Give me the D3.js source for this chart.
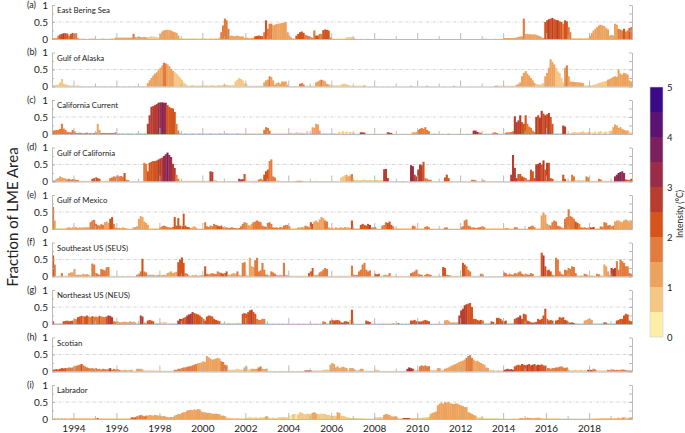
<!DOCTYPE html>
<html><head><meta charset="utf-8">
<script src="https://cdn.jsdelivr.net/npm/d3@7"></script>
<style>body{margin:0;background:#fff}svg{display:block}text{font-family:Lato,"Open Sans",sans-serif;fill:#222}</style>
</head><body>
<svg id="chart" width="685" height="433"></svg>
<script>
// ---------------- data ----------------
const startYear = 1993, endYear = 2020;          // monthly series Jan 1993 .. Dec 2019
const regions = ["East Bering Sea","Gulf of Alaska","California Current","Gulf of California","Gulf of Mexico","Southeast US (SEUS)","Northeast US (NEUS)","Scotian","Labrador"];
const letters = ["(a)","(b)","(c)","(d)","(e)","(f)","(g)","(h)","(i)"];
const yTickLabels = [0, 0.5, 1];
const yearLabels = [1994,1996,1998,2000,2002,2004,2006,2008,2010,2012,2014,2016,2018];
const intensityTicks = [0,1,2,3,4,5];
// colour of each 0.5 °C intensity class (class 0 = 0–0.5 °C ... class 9 = 4.5–5 °C)
const classColors = ["#fdeea8","#f4c784","#eda25e","#e37b3c","#d4541b","#b83c2f","#9a2c47","#7b1f5e","#5c1273","#3b0a86"];

// fraction of LME area (percent) per month, and intensity class per month
const ebsFrac = [3,3,3,10,13,15,17,17,16,10,15,18, 16,17,3,1,1,2,1,0,1,1,2,1, 1,0,1,1,2,1,0,1,1,2,1,4, 4,4,4,4,4,4,4,4,4,15,6,5, 7,6,5,6,5,5,6,8,7,6,5,4, 15,22,25,27,27,26,25,22,20,18,10,2, 1,2,1,2,1,1,2,1,2,1,1,2, 1,2,1,1,2,1,1,2,1,5,20,40, 60,55,30,9,10,8,9,10,8,7,8,3, 4,3,2,3,4,8,9,10,9,8,20,55, 30,45,45,40,42,44,45,46,47,48,50,20, 10,5,2,2,10,15,20,22,18,12,10,8, 5,4,25,10,10,15,15,26,28,27,25,5, 1,1,1,1,1,1,1,1,4,5,5,6, 4,1,0,0,1,0,0,0,1,0,0,0, 0,0,0,1,0,0,0,0,0,0,0,0, 0,0,0,0,0,0,0,0,0,0,0,0, 0,0,0,0,0,0,0,0,0,0,0,0, 0,0,0,0,0,0,0,0,0,0,0,0, 0,0,0,0,0,0,0,0,0,0,0,0, 1,1,1,0,0,0,0,1,0,0,1,0, 3,3,3,3,3,3,3,5,6,8,7,60, 15,15,14,14,13,14,12,10,8,5,3,50, 55,58,60,62,58,56,55,52,50,45,55,52, 35,20,3,3,2,2,3,3,2,3,3,4, 10,18,25,30,35,40,42,40,38,32,28,10, 12,10,45,42,30,28,25,30,22,25,32,35];
const ebsClass = [2,2,2,3,4,4,5,4,4,3,4,4, 4,3,2,1,1,1,1,1,1,1,1,1, 1,1,1,1,1,1,1,1,1,1,1,2, 2,2,2,2,2,2,2,2,2,3,2,2, 2,2,2,2,2,1,1,1,1,1,1,1, 2,2,2,2,2,2,2,2,2,2,2,1, 1,1,1,1,1,1,1,1,1,1,1,1, 1,1,1,1,1,1,1,1,1,1,3,3, 3,3,3,2,2,2,2,2,2,2,2,2, 2,2,2,2,2,4,4,4,4,4,3,4, 3,3,3,2,2,2,2,2,2,2,2,2, 2,2,1,1,4,4,4,4,4,3,3,3, 3,3,3,4,4,3,3,4,4,4,4,3, 1,1,1,1,1,1,1,1,1,1,1,1, 1,1,1,1,1,1,1,1,1,1,1,1, 1,1,1,1,1,1,1,1,1,1,1,1, 1,1,1,1,1,1,1,1,1,1,1,1, 1,1,1,1,1,1,1,1,1,1,1,1, 1,1,1,1,1,1,1,1,1,1,1,1, 1,1,1,1,1,1,1,1,1,1,1,1, 1,1,1,1,1,1,1,1,1,1,1,1, 2,2,2,2,2,2,2,2,2,2,2,3, 2,2,2,2,2,2,2,2,2,2,2,4, 4,5,4,5,4,4,5,4,4,3,4,4, 3,3,1,1,1,1,1,1,1,1,1,1, 2,2,2,2,2,2,2,2,2,2,2,2, 2,2,2,2,3,3,3,4,3,3,4,3];

const goaFrac = [3,4,5,5,12,22,8,6,5,3,2,3, 2,2,3,2,1,1,1,0,1,1,0,1, 1,0,1,1,0,1,1,0,1,1,0,1, 1,1,0,1,1,0,1,1,0,1,1,0, 1,1,1,1,1,10,18,25,32,38,42,50, 55,62,70,68,65,60,52,46,42,38,32,26, 20,12,8,3,2,3,4,3,2,3,2,3, 2,3,3,2,3,4,3,2,3,4,3,5, 5,5,4,3,3,4,15,20,25,22,18,10, 8,2,2,2,2,2,2,2,2,2,12,18, 20,30,28,18,5,10,12,8,15,14,15,5, 1,1,1,1,1,1,8,10,6,2,2,2, 2,2,2,12,15,18,20,18,15,8,6,5, 3,3,3,3,3,5,7,8,6,5,2,2, 2,2,2,2,2,2,3,1,0,1,0,1, 0,1,0,0,1,0,0,1,0,0,1,0, 0,0,1,0,0,0,0,0,2,0,0,0, 0,0,1,0,0,2,0,0,0,1,0,0, 0,0,1,0,0,0,0,0,2,0,0,0, 0,0,0,0,0,1,0,0,0,0,0,0, 0,0,0,0,0,0,0,2,2,2,2,2, 2,2,2,2,2,2,2,5,8,12,30,40, 45,38,32,25,18,10,8,6,5,8,10,30, 40,55,80,72,65,55,45,40,25,12,55,62, 30,15,14,14,13,12,12,11,10,3,3,3, 3,3,5,6,8,10,12,14,15,16,20,22, 25,28,30,28,50,38,35,40,38,35,18,15];
const goaClass = [1,1,1,1,1,1,1,1,1,1,1,1, 1,1,1,1,1,1,1,1,1,1,1,1, 1,1,1,1,1,1,1,1,1,1,1,1, 1,1,1,1,1,1,1,1,1,1,1,1, 1,1,1,1,1,2,2,2,2,2,2,2, 2,2,3,3,2,2,2,2,1,1,1,1, 1,1,1,1,1,1,1,1,1,1,1,1, 1,1,1,1,1,1,1,1,1,1,1,1, 1,1,1,1,1,1,1,1,1,1,1,1, 1,1,1,1,1,1,1,1,1,1,2,2, 2,3,2,2,2,2,2,2,2,2,2,2, 1,1,1,1,1,1,3,3,3,1,1,1, 1,1,1,2,2,2,3,2,2,2,2,1, 1,1,1,1,1,1,1,1,1,1,1,1, 1,1,1,1,1,1,3,1,1,1,1,1, 1,1,1,1,1,1,1,1,1,1,1,1, 1,1,1,1,1,1,1,1,3,1,1,1, 1,1,1,1,1,3,1,1,1,1,1,1, 1,1,1,1,1,1,1,1,3,1,1,1, 1,1,1,1,1,1,1,1,1,1,1,1, 1,1,1,1,1,1,1,3,3,1,1,1, 1,1,1,1,1,1,1,2,2,2,2,2, 2,2,2,2,2,2,1,1,1,1,1,2, 2,2,2,2,2,1,1,1,1,1,2,3, 2,2,2,2,2,2,2,2,2,1,1,1, 1,1,1,1,1,1,1,1,1,1,2,2, 2,2,2,2,2,2,2,2,2,2,2,2];

const ccFrac = [10,11,12,12,15,30,16,12,6,5,5,12, 8,3,2,4,3,2,3,4,2,3,2,3, 4,30,12,3,3,3,3,3,3,3,3,5, 1,2,1,2,1,1,2,1,2,1,1,2, 1,2,1,2,1,30,55,80,82,85,88,92, 93,93,92,92,85,80,76,75,65,30,10,2, 1,1,2,1,1,1,2,1,1,1,2,1, 1,1,1,1,2,1,1,1,1,2,1,1, 1,2,1,1,1,1,1,2,1,1,1,1, 1,1,1,1,1,1,1,1,1,1,12,20, 18,10,1,1,1,1,1,1,1,1,1,1, 3,4,2,3,5,4,3,4,3,2,8,2, 2,20,18,30,28,10,2,2,2,2,2,2, 2,2,2,5,6,5,8,6,7,5,6,5, 4,1,1,1,5,5,4,1,1,0,1,0, 0,1,0,1,0,1,0,5,4,3,1,0, 1,0,1,0,1,0,1,0,1,5,5,6, 12,15,18,15,20,12,8,1,1,2,1,1, 0,1,1,0,1,2,1,0,1,0,1,1, 0,1,0,1,1,0,1,10,10,6,5,4, 1,1,1,1,1,1,4,5,3,1,1,1, 1,4,5,5,6,8,52,35,40,55,35,30, 55,30,22,18,10,6,50,55,48,68,60,55, 58,62,50,30,2,2,2,2,2,25,22,2, 2,2,4,5,6,3,5,6,8,5,4,6, 5,6,4,7,5,6,8,6,5,7,6,8, 10,20,28,25,18,20,15,12,10,10,5,4];
const ccClass = [3,3,3,3,3,3,3,3,3,3,3,3, 3,3,3,3,3,3,3,3,3,3,3,3, 3,2,2,3,3,3,3,3,3,3,3,3, 2,2,2,2,2,2,2,2,2,2,2,2, 2,2,2,2,2,5,5,5,5,5,5,6, 6,7,6,6,4,4,4,4,4,3,3,2, 2,2,2,2,2,2,2,2,2,2,2,2, 2,2,2,2,2,2,2,2,2,2,2,2, 2,2,2,2,2,2,2,2,2,2,2,2, 2,2,2,2,2,2,2,2,2,2,3,3, 3,3,2,2,2,2,2,2,2,2,2,2, 1,1,1,1,1,1,1,1,1,1,1,1, 1,2,2,2,2,2,1,1,1,1,1,1, 1,1,1,0,1,0,1,0,1,0,1,0, 1,1,1,1,5,5,5,1,1,1,1,1, 1,1,1,1,1,1,1,5,5,5,1,1, 1,1,1,1,1,1,1,1,1,2,2,2, 3,3,3,3,3,3,3,1,1,1,1,1, 1,1,1,1,1,1,1,1,1,1,1,1, 1,1,1,1,1,1,1,6,6,6,3,3, 1,1,1,1,1,1,3,3,3,1,1,1, 1,3,3,3,3,3,5,5,5,5,4,4, 4,3,3,3,3,3,5,4,5,5,4,5, 4,5,4,4,1,1,1,1,1,5,5,1, 1,1,1,1,1,1,1,1,1,1,1,1, 1,0,1,1,0,1,1,0,1,1,0,1, 1,2,2,2,2,2,2,2,2,2,1,1];

const gcFrac = [2,2,8,10,15,12,10,9,6,8,5,7, 6,5,4,2,2,2,2,2,2,2,8,10, 12,10,8,2,2,2,2,2,10,12,15,14, 18,15,16,14,25,5,4,1,1,1,1,1, 1,1,1,55,52,30,55,58,60,60,62,65, 68,70,75,80,85,78,72,52,40,20,8,2, 2,2,2,2,2,2,2,2,2,2,2,2, 2,2,2,2,30,28,5,4,1,1,1,1, 1,1,1,1,1,1,1,1,8,6,7,22, 2,2,2,2,2,2,2,6,8,5,20,30, 35,60,65,15,12,3,3,1,1,1,1,1, 1,1,1,1,2,2,2,2,1,1,1,1, 1,1,1,2,1,1,1,1,1,1,1,1, 1,1,1,1,1,12,15,18,20,15,18,22, 5,4,5,3,4,5,6,4,3,5,4,3, 4,5,3,4,3,36,37,10,1,1,1,1, 1,1,1,1,1,1,1,1,48,45,20,15, 35,50,48,58,10,8,5,5,1,1,1,1, 1,1,1,12,20,10,1,1,1,1,1,1, 1,1,1,1,1,1,5,5,4,1,1,1, 3,3,1,1,1,1,1,1,1,1,1,1, 1,1,1,1,20,78,40,10,22,22,15,12, 10,5,5,35,30,10,50,52,55,50,62,35, 55,55,10,8,2,2,2,2,2,20,8,2, 2,2,20,15,4,3,5,3,4,3,15,12, 2,2,2,2,2,8,6,2,2,2,2,2, 2,2,15,20,25,28,30,25,6,5,4,8];
const gcClass = [9,9,2,2,2,2,2,2,3,3,3,3, 3,3,3,1,1,1,1,1,1,1,4,4, 4,4,4,1,1,1,1,1,3,3,3,3, 3,3,3,3,4,3,3,1,1,1,1,1, 1,1,1,3,3,4,4,4,4,4,4,5, 5,5,6,6,7,6,6,5,5,3,3,1, 1,1,1,1,1,1,1,1,1,1,1,1, 1,1,1,1,5,5,1,1,1,1,1,1, 1,1,1,1,1,1,1,1,5,5,5,4, 1,1,1,1,1,1,1,3,3,3,4,4, 4,3,3,3,3,1,1,1,1,1,1,1, 1,1,1,1,3,3,3,3,1,1,1,1, 1,1,1,1,1,1,1,1,1,1,1,1, 1,1,1,1,1,1,1,1,2,2,2,3, 1,1,1,1,1,1,1,1,1,1,1,1, 1,1,1,1,1,5,5,5,1,1,1,1, 1,1,1,1,1,1,1,1,6,6,5,5, 5,5,5,4,3,3,3,3,1,1,1,1, 1,1,1,4,4,4,1,1,1,1,1,1, 1,1,1,1,1,1,3,3,3,1,1,1, 3,3,1,1,1,1,1,1,1,1,1,1, 1,1,1,1,5,5,5,5,4,4,4,4, 4,3,3,4,4,4,5,5,5,4,5,4, 5,4,4,4,1,1,1,1,1,4,4,1, 1,1,3,3,1,1,1,1,1,1,3,3, 1,1,1,1,1,3,3,1,1,1,1,1, 1,1,6,6,7,7,6,6,4,4,4,4];

const gomFrac = [65,25,2,2,2,2,2,2,4,5,3,5, 4,6,3,5,4,5,5,5,5,20,25,27, 15,12,10,14,12,20,22,18,30,35,15,5, 3,4,2,5,3,2,1,1,1,5,6,8, 30,38,35,22,18,12,2,2,2,2,2,2, 5,8,10,8,6,5,4,6,35,10,32,10, 8,45,10,6,5,3,5,8,4,1,1,1, 1,20,8,6,10,8,15,12,10,8,10,5, 4,5,3,4,5,3,3,2,3,8,15,20, 18,12,10,15,20,22,25,22,20,10,8,6, 18,20,15,5,4,5,3,6,4,10,12,12, 8,2,2,2,2,5,4,6,5,10,8,5, 20,15,22,25,20,28,35,32,25,22,5,3, 4,2,5,3,4,5,3,6,4,5,3,25, 3,2,2,2,12,15,12,10,15,12,4,5, 6,1,1,1,10,12,20,18,22,12,8,2, 2,2,2,2,2,2,2,2,2,10,8,2, 2,2,2,2,6,8,5,1,1,1,1,1, 1,1,1,4,5,1,1,1,1,1,1,1, 5,8,25,28,10,8,4,5,3,4,5,6, 8,5,2,2,2,2,2,2,2,2,2,2, 2,3,3,1,1,1,5,5,1,1,1,1, 1,1,6,8,10,5,2,2,2,40,48,42, 15,12,10,20,25,22,10,8,5,3,30,35, 58,38,35,30,22,18,15,5,4,5,3,4, 5,4,6,2,2,2,8,6,20,18,10,12, 8,10,22,25,25,22,20,25,28,25,22,25];
const gomClass = [3,2,1,1,1,1,1,1,2,2,2,2, 2,2,2,2,2,2,2,2,2,3,3,3, 3,3,3,3,3,2,2,2,4,4,3,2, 2,2,2,2,2,2,1,1,1,2,2,2, 2,2,2,2,2,2,1,1,1,1,1,1, 3,3,3,3,3,3,3,3,4,4,4,4, 4,4,4,4,4,2,2,2,2,1,1,1, 1,3,3,3,3,3,3,3,4,4,4,3, 3,3,3,3,3,3,3,3,3,3,3,3, 3,2,2,2,3,3,3,3,3,3,3,3, 3,3,3,3,3,3,3,3,3,3,3,3, 3,1,1,1,1,2,2,2,2,3,3,3, 4,4,2,2,2,2,2,2,3,3,2,2, 2,1,2,2,2,2,2,2,2,2,2,4, 2,1,1,1,4,4,4,4,4,5,3,3, 3,1,1,1,3,3,3,4,4,4,3,1, 1,1,1,1,1,1,1,1,1,3,3,1, 1,1,1,1,3,3,3,1,1,1,1,1, 1,1,1,3,3,1,1,1,1,1,1,1, 3,3,3,3,3,3,3,3,3,3,3,3, 3,3,1,1,1,1,1,1,1,1,1,1, 1,2,2,1,1,1,3,3,1,1,1,1, 1,1,3,3,3,3,1,1,1,2,2,2, 2,2,3,3,3,3,3,3,3,2,3,3, 3,3,3,3,4,4,3,3,3,3,3,3, 5,5,5,1,1,1,3,3,3,3,3,3, 3,3,2,2,2,2,2,2,2,2,2,2];

const seusFrac = [62,35,2,2,2,10,2,2,2,10,12,12, 22,5,5,5,5,8,6,7,5,2,38,35, 10,8,5,22,20,18,27,28,2,1,2,1, 1,2,1,2,1,1,2,1,2,1,1,5, 8,15,52,15,12,5,5,5,5,3,4,5, 3,4,5,4,10,12,15,10,12,14,42,50, 56,40,10,8,3,2,4,3,5,2,3,4, 3,30,8,6,8,10,8,7,15,12,10,8, 10,15,5,5,8,10,8,15,4,3,40,42, 3,2,55,30,28,48,55,15,18,40,20,5, 4,3,15,12,8,5,4,5,3,40,5,4, 2,2,2,2,2,2,2,2,2,2,2,10, 15,25,5,4,5,12,15,20,25,22,2,2, 2,2,2,2,2,2,2,2,2,2,2,32, 5,4,5,15,20,35,40,20,15,18,2,2, 8,6,8,2,2,5,5,4,10,2,1,2, 1,2,1,2,1,2,1,2,10,12,15,20, 8,6,5,2,5,8,6,5,2,2,2,2, 2,2,28,25,5,4,3,2,2,2,2,2, 2,40,35,30,20,15,2,2,2,2,2,8, 6,1,1,1,1,1,1,1,1,1,1,1, 12,10,5,8,6,5,10,8,12,15,8,5, 8,6,5,10,8,2,2,2,2,70,62,30, 18,20,15,5,3,55,50,15,8,5,20,18, 25,22,30,28,10,3,2,3,2,8,6,3, 2,3,2,2,8,6,3,2,35,30,15,5, 25,22,25,45,20,50,45,40,30,30,10,8];
const seusClass = [4,3,1,1,1,3,1,1,1,2,2,2, 2,2,2,2,2,2,2,2,2,1,3,3, 3,3,3,3,3,3,3,3,1,1,1,1, 1,1,1,1,1,1,1,1,1,1,1,3, 3,3,4,3,3,2,2,2,2,2,2,2, 2,2,2,2,2,2,2,2,2,2,4,4, 4,4,3,3,2,2,2,2,2,2,2,2, 2,4,3,3,3,3,3,3,3,3,4,4, 4,4,2,2,2,2,2,3,2,2,3,3, 2,2,2,2,2,3,3,3,3,3,3,3, 2,2,3,3,3,2,2,2,2,3,2,2, 1,1,1,1,1,1,1,1,1,1,1,4, 4,4,2,2,2,3,3,3,3,3,1,1, 1,1,1,1,1,1,1,1,1,1,1,3, 3,3,3,3,3,3,3,3,3,3,1,1, 4,4,4,1,1,2,2,2,3,1,1,1, 1,1,1,1,1,1,1,1,3,3,3,3, 3,3,3,1,3,3,3,3,1,1,1,1, 1,1,4,4,3,3,3,1,1,1,1,1, 1,4,4,3,3,3,1,1,1,1,1,3, 3,1,1,1,1,1,1,1,1,1,1,1, 3,3,3,3,3,3,3,3,3,3,3,3, 3,3,3,3,3,1,1,1,1,4,5,4, 4,4,4,3,3,3,3,3,3,3,3,3, 3,3,3,3,3,2,2,2,2,3,3,2, 2,2,2,2,3,3,2,2,2,2,2,2, 5,5,5,3,3,3,3,3,3,3,3,3];

const neusFrac = [8,2,2,2,2,2,8,9,10,8,9,10, 15,14,20,22,24,23,22,25,22,20,23,21, 22,20,24,22,21,20,22,25,24,20,8,7, 8,6,5,6,7,6,5,8,6,7,5,2, 2,25,22,5,4,10,12,10,8,3,3,3, 5,4,5,6,2,2,2,2,2,2,10,15, 15,18,20,25,28,30,35,32,30,28,25,20, 15,10,22,25,24,22,15,12,10,8,3,2, 3,2,4,3,2,3,2,4,3,2,30,32, 30,35,40,42,35,30,15,12,12,15,15,2, 1,2,1,2,1,1,2,1,2,1,1,2, 1,1,2,1,1,2,1,1,2,1,1,1, 2,1,1,2,1,1,2,8,6,2,2,10, 12,10,11,12,10,5,4,8,8,6,12,42, 3,1,1,1,1,1,1,10,8,6,2,1, 2,1,2,1,2,2,1,2,1,2,1,2, 1,2,1,2,1,2,1,2,10,10,12,8, 8,7,8,10,12,10,8,1,1,1,1,1, 1,1,1,10,12,10,5,4,5,4,5,25, 40,45,55,58,60,62,50,15,15,12,10,12, 10,3,3,3,3,8,6,3,18,18,15,10, 8,10,3,3,3,3,15,18,20,25,15,30, 28,10,8,5,4,5,6,15,12,15,25,45, 15,10,12,10,3,10,12,20,18,20,12,10, 5,4,5,3,2,2,2,2,2,10,12,15, 14,12,2,2,2,2,2,2,5,4,2,2, 2,2,2,10,12,15,15,25,30,28,10,8];
const neusClass = [4,1,1,1,1,1,4,4,4,4,4,4, 3,3,4,4,4,3,4,4,3,3,4,3, 3,3,4,3,3,3,4,5,5,5,3,3, 2,2,2,2,2,2,2,2,2,2,2,1, 1,5,5,2,2,4,4,4,4,1,1,1, 1,1,1,1,1,1,1,1,1,1,5,5, 4,4,4,5,5,5,5,4,4,4,4,4, 4,4,4,4,4,4,4,4,4,4,1,1, 1,1,1,1,1,1,1,1,1,1,4,4, 4,4,4,5,4,4,3,3,3,3,3,1, 1,1,1,1,1,1,1,1,1,1,1,1, 1,1,1,1,1,1,1,1,1,1,1,1, 1,1,1,1,1,1,1,3,3,1,1,4, 4,4,4,4,4,4,4,4,4,4,1,4, 1,1,1,1,1,1,1,4,4,4,1,1, 1,1,1,1,1,1,1,1,1,1,7,1, 1,7,1,1,1,1,1,1,4,4,4,4, 4,4,4,4,4,4,4,1,1,1,1,1, 1,1,1,2,2,2,2,2,2,2,2,5, 5,5,5,5,4,4,4,4,4,4,4,4, 4,1,1,1,1,4,4,1,4,4,4,4, 4,4,1,1,1,1,4,4,5,5,4,4, 4,4,4,4,4,4,4,4,4,4,4,4, 4,4,4,4,1,4,4,4,4,4,4,4, 4,4,4,4,1,1,1,1,1,2,2,2, 2,2,1,1,1,1,1,1,4,4,1,1, 1,1,1,4,4,4,4,4,4,4,4,4];

const scotFrac = [5,6,7,6,8,10,9,10,10,12,11,12, 15,17,18,20,22,18,15,12,10,9,10,8, 10,7,8,6,8,7,6,8,10,5,8,6, 7,5,4,3,5,4,3,4,5,2,2,8, 7,8,6,3,3,3,3,3,3,3,3,2, 2,2,2,2,2,2,2,2,5,5,8,8, 10,12,12,14,15,16,18,20,22,24,25,27, 30,28,45,42,38,35,36,38,40,38,30,28, 20,18,5,4,5,5,6,8,6,5,6,12, 15,5,6,8,8,7,8,12,15,8,7,8, 2,1,2,1,2,1,1,2,1,2,1,1, 2,1,2,1,1,2,1,2,1,3,3,3, 3,3,3,3,3,3,3,5,5,6,5,20, 25,22,12,15,10,12,14,12,10,5,10,10, 8,5,4,5,8,8,2,2,2,2,2,2, 5,5,4,1,2,1,2,1,2,1,2,1, 2,1,2,1,2,2,8,12,10,8,5,4, 5,15,18,16,18,15,16,5,4,5,4,10, 10,5,5,8,10,12,15,18,20,22,25,28, 30,32,35,40,45,48,40,35,30,32,28,25, 22,20,12,10,5,4,5,2,3,4,2,3, 5,6,8,6,7,5,15,18,20,18,22,20, 18,20,22,18,20,22,18,20,19,21,18,17, 10,10,8,10,10,12,12,14,15,12,10,12, 5,4,3,4,5,3,4,5,3,4,3,5, 5,4,8,6,3,3,3,3,3,3,5,4, 5,6,4,5,4,5,6,5,4,3,3,3];
const scotClass = [4,4,4,4,4,4,4,4,3,3,3,3, 3,3,3,3,4,3,3,3,3,3,3,3, 3,3,3,3,3,3,3,3,5,3,3,3, 3,3,2,2,2,2,2,2,2,1,1,2, 2,2,2,1,1,1,1,1,1,1,1,1, 1,1,1,1,1,1,1,1,3,3,3,3, 3,3,3,3,3,3,3,3,3,2,2,2, 2,2,2,2,2,2,2,2,2,2,3,3, 3,3,1,1,1,1,1,1,1,1,1,2, 2,1,1,2,2,2,2,3,3,2,2,2, 1,1,1,1,1,1,1,1,1,1,1,1, 1,1,1,1,1,1,1,1,1,5,5,5, 5,1,1,1,1,1,1,1,1,1,1,2, 2,2,2,2,2,2,2,2,2,1,2,2, 2,1,1,1,2,2,1,1,1,1,1,1, 1,1,1,1,1,1,1,1,1,1,1,1, 1,1,1,1,1,1,5,6,5,5,1,1, 1,3,3,3,3,3,3,1,1,1,1,2, 2,1,1,2,2,2,2,2,2,2,2,2, 2,2,2,3,3,3,3,2,2,2,2,2, 2,2,2,2,1,1,1,1,1,1,1,1, 5,5,5,5,5,5,4,4,4,4,4,4, 4,5,4,4,5,4,4,5,4,4,4,4, 3,3,3,3,3,3,3,3,3,3,3,3, 1,1,1,1,1,1,1,1,1,1,1,5, 5,5,3,3,1,1,1,1,1,1,3,3, 3,3,3,3,3,3,3,3,3,3,3,3];

const labFrac = [1,2,1,2,1,2,1,2,1,1,2,3, 2,3,2,3,3,2,3,2,3,2,2,3, 2,3,2,2,2,2,2,2,2,2,2,2, 2,2,2,2,2,2,2,2,5,4,5,8, 10,12,10,8,10,10,12,11,10,12,11,10, 10,8,9,7,6,5,6,5,10,12,15,14, 18,20,20,25,26,27,26,28,27,29,28,22, 20,20,18,18,17,16,15,16,15,14,10,10, 8,5,4,3,3,2,2,3,2,2,2,2, 3,4,5,4,3,5,4,3,5,4,6,8, 6,3,2,4,3,2,5,5,5,6,5,4, 10,12,14,15,12,14,20,18,15,14,16,15, 15,18,20,16,15,14,16,15,15,12,12,10, 9,10,8,20,18,10,9,8,5,5,3,3, 3,3,2,2,2,2,1,1,1,1,1,1, 5,4,5,6,5,12,15,14,12,8,7,8, 6,2,2,2,3,3,3,3,2,3,3,3, 3,3,3,5,4,5,6,15,18,20,22,40, 45,48,45,50,48,50,46,45,44,46,45,42, 40,38,35,35,20,18,15,12,10,5,4,5, 4,2,2,2,2,2,2,2,2,2,1,1, 1,1,1,1,1,1,1,1,1,3,3,2, 3,4,3,3,2,3,3,4,3,2,2,2, 2,2,2,2,2,2,2,2,1,1,1,1, 1,1,1,1,1,1,1,1,1,1,1,1, 1,1,2,2,2,2,3,3,3,3,3,3, 3,3,3,3,4,3,4,5,4,3,4,5];
const labClass = [2,2,2,2,2,2,2,2,2,2,2,1, 1,1,1,1,1,1,1,1,1,1,1,1, 1,5,1,1,1,1,1,1,1,1,1,1, 1,1,1,1,1,1,1,1,4,4,4,3, 3,3,3,3,3,2,2,2,2,2,2,2, 2,2,2,2,2,2,2,2,2,2,2,2, 2,2,2,2,2,2,2,2,2,2,2,2, 2,2,2,2,2,2,2,2,2,2,2,2, 2,1,1,1,1,1,1,1,1,1,1,1, 1,1,1,1,1,1,1,1,1,1,1,2, 1,1,1,1,1,1,1,1,1,1,1,1, 0,0,1,1,0,1,1,1,1,1,1,1, 1,2,2,2,1,1,1,1,1,1,1,1, 1,1,1,2,2,1,1,1,1,1,1,1, 1,1,1,1,1,1,1,1,1,1,1,1, 1,1,1,1,1,2,2,2,2,2,2,2, 2,1,1,1,5,5,5,5,1,1,1,1, 1,1,1,1,1,1,1,2,2,2,2,2, 2,2,2,2,2,2,2,2,2,2,2,2, 2,2,2,2,2,2,2,2,2,1,1,1, 1,1,1,1,1,1,1,1,1,1,1,1, 1,1,1,1,1,1,1,1,1,2,2,2, 2,2,2,2,2,2,2,2,2,1,1,1, 1,1,1,1,1,1,1,1,1,1,1,1, 1,1,1,1,1,1,1,1,1,1,1,1, 1,1,1,1,1,1,1,1,1,1,1,1, 1,1,1,1,2,1,2,2,1,1,2,2];

const fracs = [ebsFrac, goaFrac, ccFrac, gcFrac, gomFrac, seusFrac, neusFrac, scotFrac, labFrac];
const classes = [ebsClass, goaClass, ccClass, gcClass, gomClass, seusClass, neusClass, scotClass, labClass];

// ---------------- drawing ----------------
const svg = d3.select("#chart");
const FONT = 'Lato,"Open Sans",sans-serif';
const x0 = 52, x1 = 632;
const x = d3.scaleTime().domain([new Date(startYear,0,1), new Date(endYear,0,1)]).range([x0, x1]);
const evenYears = yearLabels.map(y => new Date(y,0,1));
const oddYears = d3.range(startYear+2, endYear, 2).map(y => new Date(y,0,1));
const axisGray = "#b3b3b3";

fracs.forEach((frac, k) => {
  if (frac.length !== 324 || classes[k].length !== 324) console.error("length", k, frac.length, classes[k].length);
  const top = 5 + 47.5*k, zero = 39 + 47.5*k;
  const y = d3.scaleLinear().domain([0,1]).range([zero, top]);
  const g = svg.append("g");

  // dash-dot grid at 0.5
  g.append("line").attr("x1", x0).attr("x2", x1).attr("y1", y(0.5)).attr("y2", y(0.5))
    .attr("stroke", "#c9c9c9").attr("stroke-width", 0.8).attr("stroke-dasharray", "3,1.5,0.8,1.5");

  // bars
  const months = frac.map((v, i) => ({i, v: v/100, c: classes[k][i]}));
  g.append("g").selectAll("rect").data(months.filter(d => d.v > 0)).join("rect")
    .attr("x", d => x(new Date(startYear, d.i, 1)))
    .attr("width", d => x(new Date(startYear, d.i+1, 1)) - x(new Date(startYear, d.i, 1)) + 0.3)
    .attr("y", d => y(d.v))
    .attr("height", d => zero - y(d.v))
    .attr("fill", d => classColors[d.c]);

  // bottom axis (ticks inward)
  const isLast = k === fracs.length - 1;
  const gx = g.append("g").attr("transform", `translate(0,${zero})`)
    .call(d3.axisBottom(x).tickValues(evenYears).tickSizeInner(-6).tickSizeOuter(0).tickPadding(6)
      .tickFormat(isLast ? d3.timeFormat("%Y") : () => ""));
  g.append("g").attr("transform", `translate(0,${zero})`)
    .call(d3.axisBottom(x).tickValues(oddYears).tickSizeInner(-3).tickSizeOuter(0).tickFormat(() => ""))
    .select(".domain").remove();

  // left axis
  const gl = g.append("g").attr("transform", `translate(${x0},0)`)
    .call(d3.axisLeft(y).tickValues(yTickLabels).tickSizeInner(-3).tickSizeOuter(0).tickPadding(4)
      .tickFormat(d => d === 0.5 ? "0.5" : String(d)));
  g.append("g").attr("transform", `translate(${x0},0)`)
    .call(d3.axisLeft(y).tickValues([0.25,0.75]).tickSizeInner(-2).tickSizeOuter(0).tickFormat(() => ""))
    .select(".domain").remove();
  // right axis
  g.append("g").attr("transform", `translate(${x1},0)`)
    .call(d3.axisRight(y).tickValues([0,0.25,0.5,0.75,1]).tickSizeInner(-3).tickSizeOuter(0).tickFormat(() => ""));

  g.selectAll(".domain, .tick line").attr("stroke", axisGray).attr("stroke-width", 0.9);
  g.selectAll(".tick text").attr("font-family", FONT).attr("fill", "#222");
  gl.selectAll(".tick text").attr("font-size", 10);
  gx.selectAll(".tick text").attr("font-size", 10);

  // panel letter and region name
  g.append("text").attr("x", 27).attr("y", top).attr("dy", "0.32em").attr("font-size", 9).text(letters[k]);
  g.append("text").attr("x", 57).attr("y", top + 8).attr("font-size", 7.8).text(regions[k]);
});

// y label
svg.append("text").attr("transform", "translate(12,217) rotate(-90)").attr("text-anchor", "middle")
  .attr("dominant-baseline", "central").attr("font-size", 15).text("Fraction of LME Area");

// colour bar
const yc = d3.scaleLinear().domain([0,5]).range([337, 87]);
const cb = svg.append("g");
cb.selectAll("rect").data(classColors).join("rect")
  .attr("x", 650).attr("width", 13)
  .attr("y", (c, i) => yc((i+1)*0.5)).attr("height", (c, i) => yc(i*0.5) - yc((i+1)*0.5))
  .attr("fill", c => c);
cb.append("rect").attr("x", 650).attr("y", 87).attr("width", 13).attr("height", 250)
  .attr("fill", "none").attr("stroke", "#d0d0d0").attr("stroke-width", 0.6);
const ca = cb.append("g").attr("transform", "translate(663,0)")
  .call(d3.axisRight(yc).tickValues(intensityTicks).tickSize(0).tickPadding(4).tickFormat(d3.format("d")));
ca.select(".domain").remove();
ca.selectAll(".tick text").attr("font-family", FONT).attr("font-size", 9.5).attr("fill", "#222");
svg.append("text").attr("transform", "translate(680,214) rotate(-90)").attr("text-anchor", "middle")
  .attr("dominant-baseline", "central").attr("font-size", 8.5).text("Intensity (°C)");
</script>
</body></html>
